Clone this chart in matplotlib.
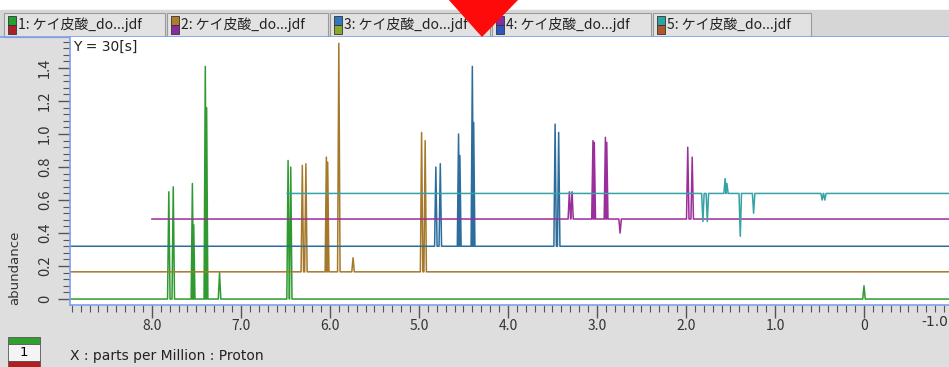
import matplotlib.pyplot as plt
from matplotlib.patches import Rectangle, Polygon
from matplotlib.ticker import MultipleLocator, FuncFormatter

plt.rcParams['font.family'] = ['Noto Sans CJK JP', 'DejaVu Sans']

# spectra: peak positions (ppm) and intensities above each trace's baseline
green_ppm = [7.81, 7.76, 7.545, 7.53, 7.40, 7.385, 7.24, 6.47, 6.44, 0.0]
green_int = [0.65, 0.68, 0.70, 0.45, 1.41, 1.16, 0.16, 0.84, 0.80, 0.08]

brown_ppm = [6.31, 6.27, 6.04, 6.025, 5.90, 5.74, 4.97, 4.93]
brown_int = [0.645, 0.655, 0.695, 0.665, 1.385, 0.085, 0.845, 0.795]

blue_ppm = [4.81, 4.76, 4.555, 4.54, 4.40, 4.385, 3.47, 3.43]
blue_int = [0.48, 0.50, 0.68, 0.55, 1.09, 0.75, 0.74, 0.69]

purple_ppm = [3.31, 3.28, 3.045, 3.03, 2.905, 2.89, 2.74, 1.98, 1.93]
purple_int = [0.165, 0.165, 0.475, 0.465, 0.495, 0.465, -0.085, 0.435, 0.375]

teal_ppm = [1.81, 1.76, 1.56, 1.54, 1.39, 1.24, 0.47, 0.44]
teal_int = [-0.17, -0.17, 0.09, 0.06, -0.26, -0.12, -0.04, -0.04]

offsets = [0.0, 0.165, 0.32, 0.485, 0.64]
starts = [8.92, 8.92, 8.92, 8.0, 6.48]
tab_names = ['1: ケイ皮酸_do...jdf', '2: ケイ皮酸_do...jdf', '3: ケイ皮酸_do...jdf',
             '4: ケイ皮酸_do...jdf', '5: ケイ皮酸_do...jdf']

colors = ['#2f9a2f', '#a5782a', '#2c6d9c', '#9a2e9a', '#35a2a6']
icon_colors = [('#22a030', '#b01e28'), ('#b07c2a', '#8a2aa0'), ('#2f78c0', '#8aa82a'),
               ('#8a2aa0', '#2f55c0'), ('#2aa5a5', '#b0562a')]

W, H = 949, 367
fig = plt.figure(figsize=(W / 100, H / 100), dpi=100)
fig.patch.set_facecolor('#dedede')

# background "window" drawn in pixel coords
bg = fig.add_axes([0, 0, 1, 1], zorder=0)
bg.set_xlim(0, W)
bg.set_ylim(H, 0)
bg.axis('off')
bg.add_patch(Rectangle((0, 0), W, 10, color='white'))
bg.add_patch(Rectangle((0, 10), W, 27, color='#d6d6d6'))

tab_x = [4, 167, 330, 492, 653]
tab_w = [161, 161, 160, 159, 158]
for i in range(5):
    x0 = tab_x[i]
    bg.add_patch(Rectangle((x0, 13), tab_w[i], 24, facecolor='#e2e2e2',
                           edgecolor='#9a9a9a', lw=0.8))
    bg.add_patch(Rectangle((x0 + 4, 16), 8, 9, facecolor=icon_colors[i][0],
                           edgecolor='#333333', lw=0.6))
    bg.add_patch(Rectangle((x0 + 4, 25), 8, 9, facecolor=icon_colors[i][1],
                           edgecolor='#333333', lw=0.6))
    bg.text(x0 + 14, 25, tab_names[i], fontsize=10, va='center', ha='left',
            color='#222222')
bg.plot([0, W], [37, 37], color='#7f9fef', lw=1.2)

# red arrow
bg.add_patch(Polygon([(448, -2), (519, -2), (482, 36)], closed=True,
                     color='#ff0a0a', zorder=10))

# bottom-left widget
bg.add_patch(Rectangle((8, 337), 32, 7, facecolor='#2ea02e', edgecolor='#555555', lw=0.6))
bg.add_patch(Rectangle((8, 344), 32, 17, facecolor='#f4f4f4', edgecolor='#555555', lw=0.6))
bg.add_patch(Rectangle((8, 361), 32, 8, facecolor='#b02020', edgecolor='#555555', lw=0.6))
bg.text(24, 352.5, '1', fontsize=9.5, ha='center', va='center', family='DejaVu Sans')
bg.text(70, 356, 'X : parts per Million : Proton', fontsize=10, ha='left', va='center',
        family='DejaVu Sans', color='#222222')
bg.text(15, 268, 'abundance', fontsize=9.5, rotation=90, ha='center', va='center',
        family='DejaVu Sans', color='#333333')

# spectrum axes
ax = fig.add_axes([70 / W, (H - 305) / H, (W - 70) / W, (305 - 37) / H], zorder=1)
ax.set_facecolor('white')

ppms = [green_ppm, brown_ppm, blue_ppm, purple_ppm, teal_ppm]
ints = [green_int, brown_int, blue_int, purple_int, teal_int]
w = 0.014
for k in range(5):
    b = offsets[k]
    xs = [starts[k]]
    ys = [b]
    for p, h in sorted(zip(ppms[k], ints[k]), reverse=True):
        xs += [p + w, p, p - w]
        ys += [b, b + h, b]
    xs.append(-1.2)
    ys.append(b)
    ax.plot(xs, ys, color=colors[k], lw=1.1)

ax.set_xlim(8.92, -0.955)
ax.set_ylim(-0.036, 1.588)

for s in ['top', 'right']:
    ax.spines[s].set_visible(False)
for s in ['left', 'bottom']:
    ax.spines[s].set_color('#7f9fef')
    ax.spines[s].set_linewidth(1.2)

fmt = FuncFormatter(lambda v, pos: '0' if abs(v) < 1e-9 else '%.1f' % v)
ax.xaxis.set_major_locator(MultipleLocator(1.0))
ax.xaxis.set_minor_locator(MultipleLocator(0.1))
ax.yaxis.set_major_locator(MultipleLocator(0.2))
ax.yaxis.set_minor_locator(MultipleLocator(0.04))
ax.xaxis.set_major_formatter(fmt)
ax.yaxis.set_major_formatter(fmt)
ax.tick_params(which='major', length=9, width=1, color='#555555', labelsize=10,
               labelcolor='#333333')
ax.tick_params(which='minor', length=5, width=0.8, color='#555555')
ax.tick_params(axis='x', pad=1)
ax.tick_params(axis='y', labelsize=10.5, pad=4)
for lbl in ax.get_yticklabels():
    lbl.set_rotation(90)
    lbl.set_va('center')
    lbl.set_ha('right')

# last tick label sits at the right edge of the window
bg.text(948, 322, '-1.0', fontsize=10, ha='right', va='center',
        family='DejaVu Sans', color='#333333')

ax.text(0.003, 0.99, 'Y = 30[s]', transform=ax.transAxes, ha='left', va='top',
        fontsize=10, color='#222222', family='DejaVu Sans')

plt.savefig('out.png', dpi=100, facecolor=fig.get_facecolor())
